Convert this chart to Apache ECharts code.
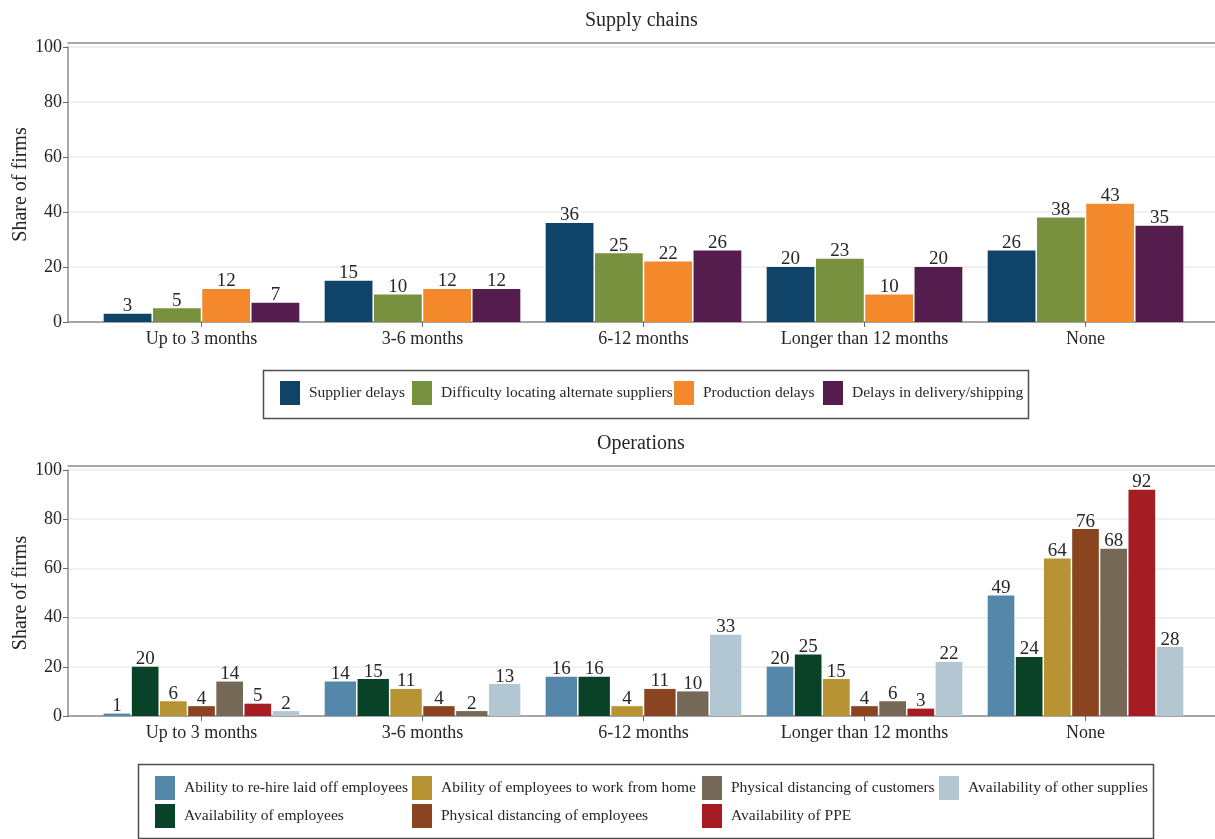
<!DOCTYPE html>
<html>
<head>
<meta charset="utf-8">
<script src="https://cdn.jsdelivr.net/npm/echarts@6/dist/echarts.min.js"></script>
<style>
html,body{margin:0;padding:0;background:#fff;}
#chart{width:1215px;height:839px;}
</style>
</head>
<body>
<div id="chart"></div>
<script>
// ---------- data ----------
const categories = ['Up to 3 months', '3-6 months', '6-12 months', 'Longer than 12 months', 'None'];
const yTicks = [0, 20, 40, 60, 80, 100];

const topTitle = 'Supply chains';
const bottomTitle = 'Operations';
const yAxisTitle = 'Share of firms';

const supplyNames = ['Supplier delays', 'Difficulty locating alternate suppliers', 'Production delays', 'Delays in delivery/shipping'];
const supplierDelays     = [3, 15, 36, 20, 26];
const difficultyLocating = [5, 10, 25, 23, 38];
const productionDelays   = [12, 12, 22, 10, 43];
const deliveryDelays     = [7, 12, 26, 20, 35];

const opsNames = ['Ability to re-hire laid off employees', 'Availability of employees', 'Ability of employees to work from home',
  'Physical distancing of employees', 'Physical distancing of customers', 'Availability of PPE', 'Availability of other supplies'];
const rehire          = [1, 14, 16, 20, 49];
const availEmployees  = [20, 15, 16, 25, 24];
const workFromHome    = [6, 11, 4, 15, 64];
const distEmployees   = [4, 4, 11, 4, 76];
const distCustomers   = [14, 2, 10, 6, 68];
const availPPE        = [5, null, null, 3, 92];
const otherSupplies   = [2, 13, 33, 22, 28];

// ---------- styles ----------
const supplyColors = ['#0f4468', '#77913f', '#f4892b', '#551c4e'];
const opsColors = ['#5487aa', '#0a4227', '#b79333', '#8a4520', '#766857', '#a51c22', '#b3c7d3'];
const FONT = '"Liberation Serif", "Times New Roman", serif';
const TXT = '#262626';

const supplyValues = [supplierDelays, difficultyLocating, productionDelays, deliveryDelays];
const opsValues = [rehire, availEmployees, workFromHome, distEmployees, distCustomers, availPPE, otherSupplies];

function makeSeries(names, valuesList, colors, xIdx, yIdx) {
  return names.map(function (name, p) {
    const data = [];
    valuesList[p].forEach(function (v, c) { if (v !== null) data.push([c, v]); });
    return {
      type: 'custom',
      name: name,
      xAxisIndex: xIdx,
      yAxisIndex: yIdx,
      itemStyle: { color: colors[p] },
      encode: { x: 0, y: 1 },
      data: data,
      renderItem: function (params, api) {
        const c = api.value(0), v = api.value(1);
        const present = [];
        valuesList.forEach(function (arr, j) { if (arr[c] !== null) present.push(j); });
        const k = present.indexOf(p), n = present.length;
        const base = api.coord([c, 0]);
        const top = api.coord([c, v]);
        const band = api.size([1, 0])[0];
        const groupW = band * 0.892;
        const slot = groupW / n;
        const x0 = base[0] - groupW / 2 + k * slot;
        return {
          type: 'group',
          children: [
            { type: 'rect', shape: { x: x0 + 0.75, y: top[1], width: slot - 1.5, height: base[1] - top[1] },
              style: { fill: colors[p] } },
            { type: 'text', style: { text: String(v), x: x0 + slot / 2, y: top[1] + 2, align: 'center', verticalAlign: 'bottom',
              fontSize: 19, fontFamily: FONT, fill: TXT } }
          ]
        };
      }
    };
  });
}

function panel(top, height, gi) {
  return {
    grids: [
      { left: 68, top: top, width: 1152, height: height, outerBoundsMode: 'none', containLabel: false },
      { left: 91, top: top, width: 1105, height: height, outerBoundsMode: 'none', containLabel: false }
    ],
    xAxes: [
      { gridIndex: gi, type: 'value', min: 0, max: 1, axisLine: { show: true, lineStyle: { color: '#8c8c8c', width: 1.5 } },
        axisTick: { show: false }, axisLabel: { show: false }, splitLine: { show: false } },
      { gridIndex: gi, type: 'value', position: 'top', offset: 4, min: 0, max: 1,
        axisLine: { show: true, lineStyle: { color: '#8c8c8c', width: 1.5 } },
        axisTick: { show: false }, axisLabel: { show: false }, splitLine: { show: false } },
      { gridIndex: gi + 1, type: 'category', data: categories, boundaryGap: true,
        axisLine: { show: false },
        axisTick: { show: true, alignWithLabel: true, length: 5, lineStyle: { color: '#666' } },
        axisLabel: { fontSize: 18, fontFamily: FONT, color: TXT, margin: 8 } }
    ],
    yAxes: [
      { gridIndex: gi, type: 'value', min: 0, max: 100, interval: 20,
        name: yAxisTitle, nameLocation: 'middle', nameGap: 37, nameMoveOverlap: false,
        nameTextStyle: { fontSize: 20, fontFamily: FONT, color: TXT },
        axisLine: { show: true, lineStyle: { color: '#8c8c8c', width: 1.5 } },
        axisTick: { show: true, length: 5, lineStyle: { color: '#666' } },
        axisLabel: { fontSize: 18, fontFamily: FONT, color: TXT, margin: 6,
          formatter: function (v) { return yTicks.indexOf(v) >= 0 ? String(v) : ''; } },
        splitLine: { show: true, lineStyle: { color: '#ececec', width: 1.5 } } },
      { gridIndex: gi + 1, type: 'value', min: 0, max: 100, interval: 20, show: false, splitLine: { show: false } }
    ]
  };
}

const pTop = panel(47, 275, 0);
const pBot = panel(470, 246, 2);

// legends: one component per column so that columns line up like the reference
const legendText = { fontSize: 15.5, fontFamily: FONT, color: TXT, padding: [0, 0, 0, 4] };
function legendColumn(names, left, top) {
  return {
    left: left, top: top, orient: 'vertical', padding: 0,
    itemWidth: 20, itemHeight: 24, itemGap: 4, icon: 'rect',
    textStyle: legendText, data: names
  };
}
const topLegendLeft = [280, 412, 674, 823];
const botLegendLeft = [155, 412, 702, 939];

const option = {
  backgroundColor: '#ffffff',
  animation: false,
  title: [
    { text: topTitle, left: 585, top: 11, padding: 0, textStyle: { fontSize: 20, fontWeight: 'normal', fontFamily: FONT, color: TXT } },
    { text: bottomTitle, left: 597, top: 434, padding: 0, textStyle: { fontSize: 20, fontWeight: 'normal', fontFamily: FONT, color: TXT } }
  ],
  graphic: [
    { type: 'rect', left: 261, top: 368, shape: { width: 765, height: 48 }, style: { fill: 'none', stroke: '#4d4d4d', lineWidth: 1.5 }, silent: true },
    { type: 'rect', left: 136, top: 762, shape: { width: 1015, height: 74 }, style: { fill: 'none', stroke: '#4d4d4d', lineWidth: 1.5 }, silent: true }
  ],
  grid: pTop.grids.concat(pBot.grids),
  xAxis: pTop.xAxes.concat(pBot.xAxes),
  yAxis: pTop.yAxes.concat(pBot.yAxes),
  legend: [
    legendColumn([supplyNames[0]], topLegendLeft[0], 381),
    legendColumn([supplyNames[1]], topLegendLeft[1], 381),
    legendColumn([supplyNames[2]], topLegendLeft[2], 381),
    legendColumn([supplyNames[3]], topLegendLeft[3], 381),
    legendColumn([opsNames[0], opsNames[1]], botLegendLeft[0], 776),
    legendColumn([opsNames[2], opsNames[3]], botLegendLeft[1], 776),
    legendColumn([opsNames[4], opsNames[5]], botLegendLeft[2], 776),
    legendColumn([opsNames[6]], botLegendLeft[3], 776)
  ],
  series: makeSeries(supplyNames, supplyValues, supplyColors, 2, 1)
    .concat(makeSeries(opsNames, opsValues, opsColors, 5, 3))
};

const chart = echarts.init(document.getElementById('chart'), null, { renderer: 'canvas' });
chart.setOption(option);
</script>
</body>
</html>
